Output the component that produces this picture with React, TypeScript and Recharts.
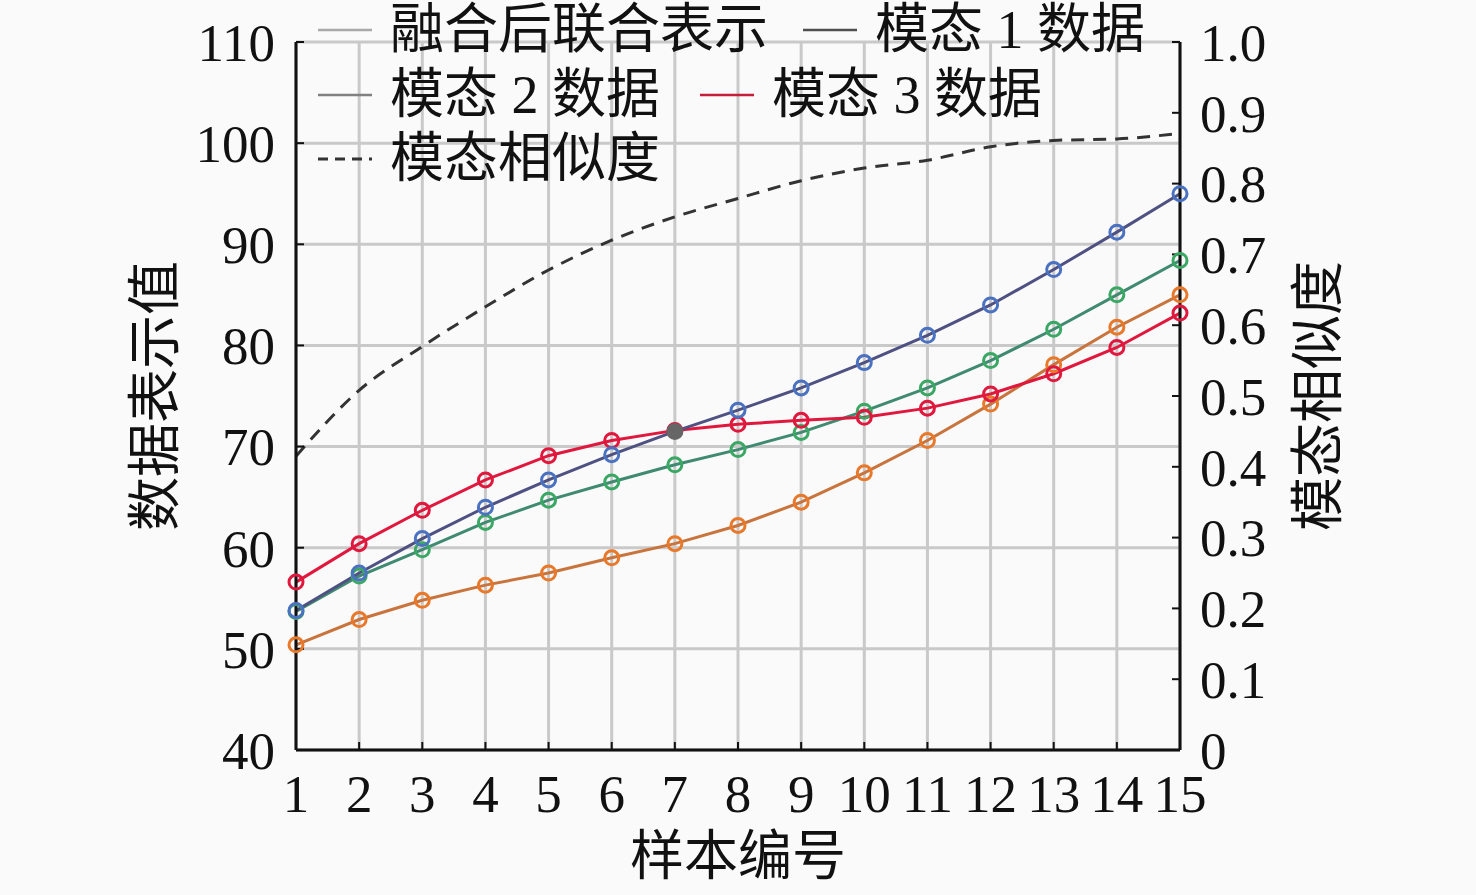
import React from 'react';
import { LineChart, Line, XAxis, YAxis, CartesianGrid, Legend } from 'recharts';

// ---------- data ----------
const sampleIds = [1, 2, 3, 4, 5, 6, 7, 8, 9, 10, 11, 12, 13, 14, 15];
const fusedValues = [53.8, 57.5, 60.9, 64.0, 66.7, 69.2, 71.5, 73.6, 75.8, 78.3, 81.0, 84.0, 87.5, 91.2, 95.0];
const modal1Values = [53.7, 57.2, 59.8, 62.5, 64.7, 66.5, 68.2, 69.7, 71.4, 73.5, 75.8, 78.5, 81.6, 85.0, 88.4];
const modal2Values = [50.4, 52.9, 54.8, 56.3, 57.5, 59.0, 60.4, 62.2, 64.5, 67.4, 70.6, 74.2, 78.1, 81.8, 85.0];
const modal3Values = [56.6, 60.4, 63.7, 66.7, 69.1, 70.6, 71.6, 72.2, 72.6, 72.9, 73.8, 75.2, 77.2, 79.8, 83.2];
const similarityValues = [0.415, 0.508, 0.57, 0.626, 0.678, 0.72, 0.753, 0.779, 0.804, 0.822, 0.833, 0.852, 0.861, 0.863, 0.871];

const leftTicks = [40, 50, 60, 70, 80, 90, 100, 110];
const rightTicks = [0, 0.1, 0.2, 0.3, 0.4, 0.5, 0.6, 0.7, 0.8, 0.9, 1.0];

const seriesNames = ['融合后联合表示', '模态 1 数据', '模态 2 数据', '模态 3 数据', '模态相似度'];
const xTitle = '样本编号';
const leftTitle = '数据表示值';
const rightTitle = '模态相似度';

const data = sampleIds.map((id, i) => ({
  id,
  fused: fusedValues[i],
  modal1: modal1Values[i],
  modal2: modal2Values[i],
  modal3: modal3Values[i],
  similarity: similarityValues[i],
}));

// ---------- styles ----------
const FONT = '"Liberation Serif", "Times New Roman", "Noto Sans CJK SC", serif';
const W = 1476;
const H = 895;

const legendEntries = [
  { name: seriesNames[0], color: '#a9a9a9', dashed: false, x: 318, y: 30 },
  { name: seriesNames[1], color: '#4f4f4f', dashed: false, x: 803, y: 30 },
  { name: seriesNames[2], color: '#808080', dashed: false, x: 318, y: 95 },
  { name: seriesNames[3], color: '#c41e3a', dashed: false, x: 700, y: 95 },
  { name: seriesNames[4], color: '#333333', dashed: true, x: 318, y: 159 },
];

const renderLegend = () => (
  <div style={{ position: 'relative', width: W, height: 200, fontFamily: FONT, fontSize: 54, color: '#111' }}>
    {legendEntries.map((e) => (
      <div
        key={e.name}
        style={{
          position: 'absolute',
          left: e.x,
          top: e.y - 35,
          height: 70,
          display: 'flex',
          alignItems: 'center',
          whiteSpace: 'nowrap',
        }}
      >
        <svg width={54} height={10} style={{ marginRight: 18, display: 'block' }}>
          <line
            x1={0}
            y1={5}
            x2={54}
            y2={5}
            stroke={e.color}
            strokeWidth={e.dashed ? 3 : 2.5}
            strokeDasharray={e.dashed ? '10 7' : undefined}
          />
        </svg>
        <span style={{ lineHeight: '70px' }}>{e.name}</span>
      </div>
    ))}
  </div>
);

const tickStyle = { fontFamily: FONT, fontSize: 53, fill: '#111' };

const makeDot = (color: string, filledIndex?: number) => (props: any) => {
  const { cx, cy, index } = props;
  if (cx == null || cy == null) return <g key={`d-${index}`} />;
  const filled = index === filledIndex;
  return (
    <circle
      key={`d-${index}`}
      cx={cx}
      cy={cy}
      r={7}
      stroke={filled ? '#666' : color}
      strokeWidth={3}
      fill={filled ? '#666' : 'none'}
    />
  );
};

export default function App() {
  return (
    <div style={{ position: 'absolute', left: 0, top: 0, width: W, height: H, background: '#fafafa' }}>
      <LineChart
        width={W}
        height={H}
        data={data}
        margin={{ top: 42, left: 196, right: 196, bottom: 85 }}
      >
        <CartesianGrid yAxisId="left" stroke="#c9c9c9" strokeWidth={3} />
        <XAxis
          dataKey="id"
          type="number"
          domain={[1, 15]}
          ticks={sampleIds}
          interval={0}
          height={60}
          axisLine={{ stroke: '#111', strokeWidth: 3 }}
          tickLine={{ stroke: '#111', strokeWidth: 2 }}
          tickSize={-8}
          tickMargin={32}
          tick={tickStyle}
          label={{ value: xTitle, position: 'center', dy: 76, style: { fontFamily: FONT, fontSize: 54, fill: '#111' } }}
        />
        <YAxis
          yAxisId="left"
          domain={[40, 110]}
          ticks={leftTicks}
          interval={0}
          width={100}
          axisLine={{ stroke: '#111', strokeWidth: 3 }}
          tickLine={{ stroke: '#111', strokeWidth: 2 }}
          tickSize={-8}
          tickMargin={29}
          tick={tickStyle}
          label={{ value: leftTitle, angle: -90, position: 'center', dx: -91, style: { fontFamily: FONT, fontSize: 54, fill: '#111' } }}
        />
        <YAxis
          yAxisId="right"
          orientation="right"
          domain={[0, 1]}
          ticks={rightTicks}
          interval={0}
          width={100}
          axisLine={{ stroke: '#111', strokeWidth: 3 }}
          tickLine={{ stroke: '#111', strokeWidth: 2 }}
          tickSize={-8}
          tickMargin={28}
          tick={tickStyle}
          tickFormatter={(v: number) => (v === 0 ? '0' : v.toFixed(1))}
          label={{ value: rightTitle, angle: -90, position: 'center', dx: 88, style: { fontFamily: FONT, fontSize: 54, fill: '#111' } }}
        />
        <Legend
          layout="horizontal"
          verticalAlign="middle"
          align="center"
          content={renderLegend}
          wrapperStyle={{ position: 'absolute', left: 0, top: 0, width: W, height: 200, margin: 0, padding: 0 }}
        />
        <Line
          yAxisId="right"
          dataKey="similarity"
          name={seriesNames[4]}
          type="monotone"
          stroke="#333"
          strokeWidth={3}
          strokeDasharray="13 9"
          dot={false}
          isAnimationActive={false}
        />
        <Line
          yAxisId="left"
          dataKey="modal2"
          name={seriesNames[2]}
          type="linear"
          stroke="#c8743c"
          strokeWidth={3}
          dot={makeDot('#e8782a')}
          isAnimationActive={false}
        />
        <Line
          yAxisId="left"
          dataKey="modal1"
          name={seriesNames[1]}
          type="linear"
          stroke="#3f8a70"
          strokeWidth={3}
          dot={makeDot('#3aa864')}
          isAnimationActive={false}
        />
        <Line
          yAxisId="left"
          dataKey="modal3"
          name={seriesNames[3]}
          type="linear"
          stroke="#e0183e"
          strokeWidth={3}
          dot={makeDot('#e0183e')}
          isAnimationActive={false}
        />
        <Line
          yAxisId="left"
          dataKey="fused"
          name={seriesNames[0]}
          type="linear"
          stroke="#4e5182"
          strokeWidth={3}
          dot={makeDot('#4a72c0', 6)}
          isAnimationActive={false}
        />
      </LineChart>
    </div>
  );
}
